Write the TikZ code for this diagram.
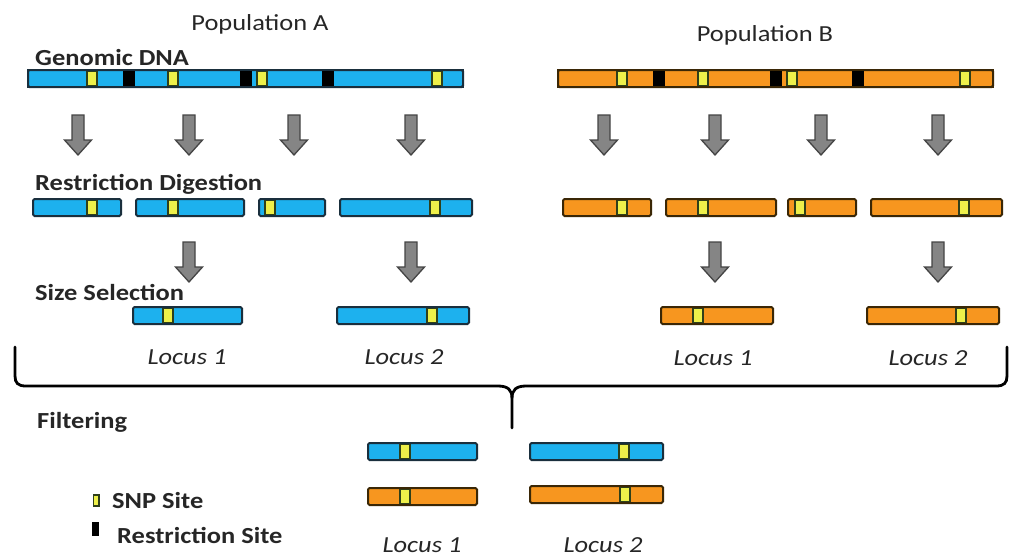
\documentclass[tikz,border=0pt]{standalone}
\usepackage{fontspec}
\setmainfont{Carlito}[FakeStretch=1.15]
\definecolor{strandblue}{HTML}{1DB1EE}
\definecolor{strandorange}{HTML}{F7961F}
\definecolor{blueedge}{HTML}{1A2F3D}
\definecolor{orangeedge}{HTML}{3A2706}
\definecolor{snpfill}{HTML}{EEF04A}
\definecolor{snpedge}{HTML}{2F401A}
\definecolor{arrowgray}{HTML}{858585}
\definecolor{arrowedge}{HTML}{444444}
\definecolor{labeltext}{HTML}{262626}
\tikzset{
  bluefill/.style={fill=strandblue},
  blueedge/.style={draw=blueedge, line width=2pt},
  orangefill/.style={fill=strandorange},
  orangeedge/.style={draw=orangeedge, line width=2pt},
  snp/.style={fill=snpfill, draw=snpedge, line width=2.8pt},
  cut/.style={fill=black},
  label/.style={inner sep=0pt, text=labeltext, font=\fontsize{23}{27}\selectfont},
  heading/.style={label, font=\fontsize{23}{27}\selectfont\bfseries, anchor=base west},
  locus/.style={label, font=\fontsize{23}{27}\selectfont\itshape, anchor=base},
  arrowbody/.style={fill=arrowgray, draw=arrowedge, line width=1.3pt, line join=miter},
  brace/.style={draw=black, line width=2.8pt, line cap=round},
  downarrow/.pic={\path[arrowbody] (-6,0) -- (6,0) -- (6,25) -- (13.5,25) -- (0,40)
      -- (-13.5,25) -- (-6,25) -- cycle;}
}
% a DNA strand: #1 colour (blue/orange), #2 left x, #3 right x, #4 top y, #5 SNP positions
\newcommand{\dnastrand}[5]{%
  \path[#1fill] (#2,#4) rectangle (#3,#4+17);
  \foreach \s in {#5} {\path[snp] (\s,#4+1) rectangle (\s+10,#4+16);}
  \path[#1edge, rounded corners=1.5pt] (#2,#4) rectangle (#3,#4+17);
}
% a restriction site on a strand: #1 x, #2 top y
\newcommand{\cutsite}[2]{\path[cut] (#1,#2) rectangle (#1+12,#2+17);}
\begin{document}
\begin{tikzpicture}[x=1pt, y=-1pt]
\useasboundingbox (0,0) rectangle (1013,558);

% population titles
\node[label, anchor=base] (popA) at (260,30) {Population A};
\node[label, anchor=base] (popB) at (765,41) {Population B};

% genomic DNA
\node[heading] (tgen) at (35,65) {Genomic DNA};
\dnastrand{blue}{28}{463}{70}{87,168,257,432}
\cutsite{123}{70}\cutsite{240}{70}\cutsite{322}{70}
\path[blueedge] (28,70) rectangle (463,87);
\dnastrand{orange}{558}{993}{70}{617,698,787,960}
\cutsite{653}{70}\cutsite{770}{70}\cutsite{852}{70}
\path[orangeedge] (558,70) rectangle (993,87);

% digestion arrows
\foreach \x in {78,189,294,411,604,715,821,938}
  \pic at (\x,115) {downarrow};

% restriction digestion
\node[heading] (tdig) at (35,190) {Restriction Digestion};
\dnastrand{blue}{33}{121}{199}{87}
\dnastrand{blue}{136}{244}{199}{168}
\dnastrand{blue}{259}{325}{199}{265}
\dnastrand{blue}{340}{472}{199}{430}
\dnastrand{orange}{563}{651}{199}{617}
\dnastrand{orange}{666}{776}{199}{698}
\dnastrand{orange}{788}{856}{199}{795}
\dnastrand{orange}{871}{1002}{199}{959}

% selection arrows
\foreach \x in {189,411,715,938}
  \pic at (\x,242) {downarrow};

% size selection
\node[heading] (tsize) at (35,300) {Size Selection};
\dnastrand{blue}{133}{242}{307}{163}
\dnastrand{blue}{337}{469}{307}{427}
\dnastrand{orange}{661}{773}{307}{693}
\dnastrand{orange}{867}{999}{307}{956}
\node[locus] (lA1) at (187,364) {Locus 1};
\node[locus] (lA2) at (404,364) {Locus 2};
\node[locus] (lB1) at (713,365) {Locus 1};
\node[locus] (lB2) at (928,365) {Locus 2};

% brace gathering both populations
\path[brace] (15,347) -- (15,376) .. controls (15,383) and (18,386) .. (26,386)
  -- (498,386) .. controls (508,386) and (512,390) .. (512,398) -- (512,428);
\path[brace] (512,398) .. controls (512,390) and (516,386) .. (526,386)
  -- (996,386) .. controls (1004,386) and (1007,383) .. (1007,376) -- (1007,347);

% filtering
\node[heading] (tfilt) at (37,428) {Filtering};
\dnastrand{blue}{368}{477}{443}{400}
\dnastrand{blue}{530}{663}{443}{619}
\dnastrand{orange}{368}{477}{488}{400}
\dnastrand{orange}{530}{663}{486}{620}
\node[locus] (lF1) at (422,552) {Locus 1};
\node[locus] (lF2) at (603,552) {Locus 2};

% legend
\path[snp, line width=1.8pt] (93.5,495) rectangle (99,506);
\node[heading] (tsnp) at (112,508) {SNP Site};
\path[cut] (92,522) rectangle (99,536);
\node[heading] (tcut) at (117,543) {Restriction Site};
\end{tikzpicture}
\end{document}
